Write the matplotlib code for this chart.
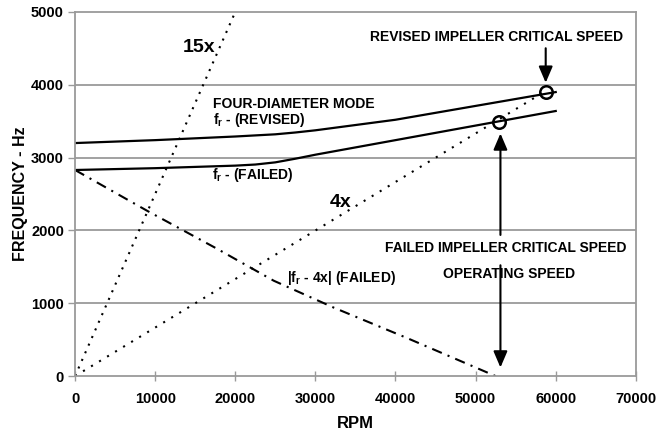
import matplotlib.pyplot as plt

# four-diameter mode natural frequency curves
rpm_fr = [0, 10000, 20000, 22500, 25000, 27500, 30000, 40000, 50000, 60000]
fr_revised = [3200, 3240, 3290, 3305, 3320, 3345, 3375, 3520, 3710, 3900]
fr_failed = [2830, 2855, 2890, 2905, 2935, 2985, 3040, 3240, 3440, 3640]

# excitation lines
rpm_15x = [0, 20000]
freq_15x = [0, 5000]
rpm_4x = [0, 58750]
freq_4x = [0, 3915]

# |fr - 4x| for the failed impeller
rpm_diff = [0, 9000, 17700, 24800, 32300, 41500, 52500]
freq_diff = [2830, 2270, 1750, 1310, 940, 520, 0]

# critical speed circles
crit_rpm = [58750, 52900]
crit_freq = [3900, 3490]

plt.rcParams['font.family'] = 'Liberation Sans'
plt.rcParams['font.weight'] = 'bold'
plt.rcParams['mathtext.fontset'] = 'custom'
plt.rcParams['mathtext.rm'] = 'Liberation Sans:bold'
plt.rcParams['mathtext.it'] = 'Liberation Sans:bold'
plt.rcParams['mathtext.bf'] = 'Liberation Sans:bold'

fig = plt.figure(figsize=(6.7, 4.43), dpi=100)
ax = fig.add_axes([0.112, 0.151, 0.837, 0.822])

grid_col = '#9a9a9a'
for y in [1000, 2000, 3000, 4000]:
    ax.axhline(y, color=grid_col, lw=1.3, zorder=0)

ax.plot(rpm_fr, fr_revised, color='black', lw=1.6)
ax.plot(rpm_fr, fr_failed, color='black', lw=1.6)
ax.plot(rpm_15x, freq_15x, color='black', lw=1.5, linestyle=(0, (1, 3)))
ax.plot(rpm_4x, freq_4x, color='black', lw=1.5, linestyle=(0, (1, 3.5)))
ax.plot(rpm_diff, freq_diff, color='black', lw=1.5, linestyle=(0, (5, 3, 1, 3)))
ax.plot(crit_rpm, crit_freq, 'o', ms=9, mfc='none', mec='black', mew=1.8)

arrow = dict(arrowstyle='-|>,head_length=0.7,head_width=0.3', color='black', lw=1.5, mutation_scale=14)
ax.annotate('', xy=(58750, 3990), xytext=(58750, 4540), arrowprops=arrow)
ax.annotate('', xy=(53100, 3370), xytext=(53100, 1900), arrowprops=arrow)
ax.annotate('', xy=(53100, 80), xytext=(53100, 1560), arrowprops=arrow)

fs = 10
ax.text(52625, 4658, 'REVISED IMPELLER CRITICAL SPEED', fontsize=fs, ha='center', va='center')
ax.text(53750, 1753, 'FAILED IMPELLER CRITICAL SPEED', fontsize=fs, ha='center', va='center')
ax.text(54125, 1397, 'OPERATING SPEED', fontsize=fs, ha='center', va='center')
ax.text(17250, 3735, 'FOUR-DIAMETER MODE', fontsize=fs, ha='left', va='center')
ax.text(17250, 3510, r'f$_\mathrm{r}$ - (REVISED)', fontsize=fs, ha='left', va='center')
ax.text(17125, 2767, r'f$_\mathrm{r}$ - (FAILED)', fontsize=fs, ha='left', va='center')
ax.text(26500, 1342, r'|f$_\mathrm{r}$ - 4x| (FAILED)', fontsize=fs, ha='left', va='center')
ax.text(15500, 4507, '15x', fontsize=14, ha='center', va='center')
ax.text(33125, 2384, '4x', fontsize=14, ha='center', va='center')

ax.set_xlim(0, 70000)
ax.set_ylim(0, 5000)
ax.set_xticks(range(0, 70001, 10000))
ax.set_yticks(range(0, 5001, 1000))
for s in ax.spines.values():
    s.set_color(grid_col)
    s.set_linewidth(1.3)
ax.tick_params(axis='x', direction='inout', length=7, width=1, color=grid_col, labelsize=10.5, pad=8)
ax.tick_params(axis='y', direction='out', length=5, width=1, color=grid_col, labelsize=10.5, pad=3)
ax.set_xlabel('RPM', fontsize=12, fontweight='bold', labelpad=7)
ax.set_ylabel('FREQUENCY - Hz', fontsize=11.5, fontweight='bold')
ax.yaxis.set_label_coords(-0.084, 0.5)

fig.savefig('out.png', dpi=100)
